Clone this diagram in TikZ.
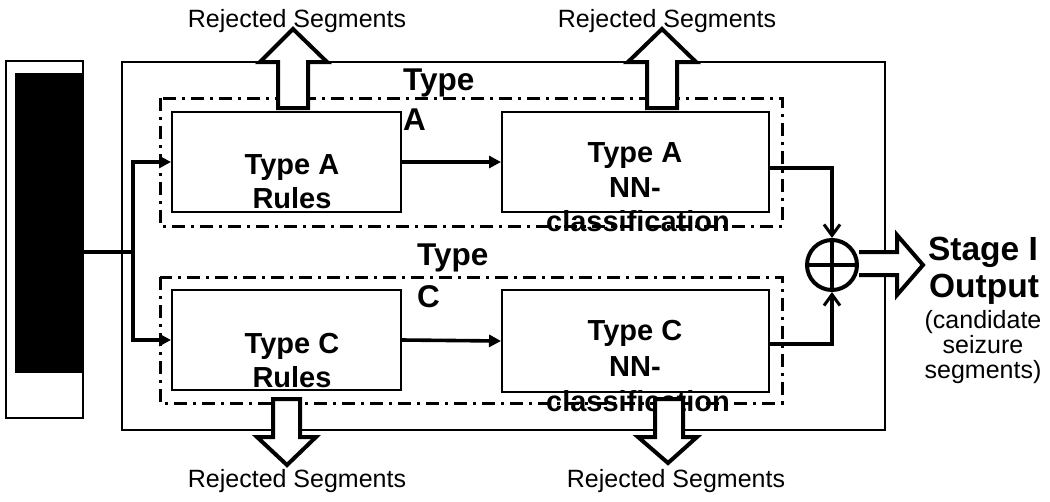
\documentclass[tikz,border=0pt]{standalone}
\usepackage{fontspec}
\setmainfont{Liberation Sans}
\usetikzlibrary{arrows.meta}
\begin{document}
\begin{tikzpicture}[x=1pt,y=-1pt,
  block/.style={draw,line width=2pt,minimum width=0pt,minimum height=0pt,inner sep=0pt},
  group/.style={draw,line width=3pt,dash pattern=on 13pt off 6pt on 3pt off 6pt},
  conn/.style={line width=3.6pt},
  tri/.style={-{Triangle[length=12pt,width=12pt]}},
  vee/.style={-{Straight Barb[length=11pt,width=16pt,line width=3pt]}},
  hollow/.style={draw,fill=white,line width=4pt,line join=miter},
  bt/.style={font=\fontsize{29}{33}\selectfont\bfseries,inner sep=0pt,anchor=base},
  rej/.style={font=\fontsize{25}{30}\selectfont,inner sep=0pt,anchor=base},
  lbl/.style={font=\fontsize{31.5}{40}\selectfont\bfseries,inner sep=0pt,anchor=base west},
  outt/.style={font=\fontsize{33.5}{38}\selectfont\bfseries,inner sep=0pt,anchor=base},
  cand/.style={font=\fontsize{25}{25}\selectfont,inner sep=0pt,anchor=base}
]
\useasboundingbox (0,0) rectangle (1050,501);
% left panel
\draw[line width=2pt] (6,61) rectangle (83,418);
\fill (15,73) rectangle (83,373);
\coordinate (src) at (83,252);
% main box
\draw[line width=2pt] (122,62) rectangle (885,430);
% groups
\draw[group] (160,98) rectangle (782,226);
\draw[group] (160,277) rectangle (782,403);
% boxes
\node[block,minimum width=229pt,minimum height=100pt] (ra) at (286.5,162) {};
\node[block,minimum width=267pt,minimum height=100pt] (na) at (635.5,162) {};
\node[block,minimum width=229pt,minimum height=100pt] (rc) at (286.5,340) {};
\node[block,minimum width=267pt,minimum height=102pt] (nc) at (635.5,341) {};
% texts
\node[bt] (tra1) at (292,174) {Type A};
\node[bt] (tra2) at (292,208) {Rules};
\node[bt] (trc1) at (292,353) {Type C};
\node[bt] (trc2) at (292,387) {Rules};
\node[bt] (tna1) at (635,162) {Type A};
\node[bt] (tna2) at (635,197) {NN-};
\node[bt] (tna3) at (638,231) {classification};
\node[bt] (tnc1) at (635,340) {Type C};
\node[bt] (tnc2) at (635,376) {NN-};
\node[bt] (tnc3) at (638,411) {classification};
\node[lbl] (la1) at (403,90) {Type};
\node[lbl] (la2) at (403,130) {A};
\node[lbl] (lc1) at (417,265) {Type};
\node[lbl] (lc2) at (417,307) {C};
% connectors
\coordinate (br) at (133,252);
\draw[conn] (src) -- (br);
\draw[conn,tri] (br) |- (ra.west);
\draw[conn,tri] (br) |- (rc.west);
\draw[conn,tri] (ra.east) -- (na.west);
\draw[conn,tri] (rc.east) -- (nc.west);
% summing junction
\node[draw,circle,line width=4pt,minimum size=50pt,inner sep=0pt] (sum) at (832,265) {};
\draw[line width=3.5pt] (sum.north) -- (sum.south) (sum.west) -- (sum.east);
\draw[conn,vee] (na.east |- 0,168) -| (sum.north);
\draw[conn,vee] (nc.east |- 0,344) -| (sum.south);
% output arrow
\draw[hollow] (sum.east |- 0,252) -- (897,252) -- (897,235) -- (923,265) -- (897,295) -- (897,275) -- (sum.east |- 0,275);
% rejected arrows (top)
\draw[hollow] (278,108) -- (278,62) -- (260,62) -- (293,29) -- (327,62) -- (308,62) -- (308,108) -- cycle;
\draw[hollow] (647,108) -- (647,62) -- (628,62) -- (662,29) -- (696,62) -- (677,62) -- (677,108) -- cycle;
% rejected arrows (bottom)
\draw[hollow] (273,399) -- (273,437) -- (257,437) -- (287,465) -- (316,437) -- (300,437) -- (300,399) -- cycle;
\draw[hollow] (655,399) -- (655,437) -- (638,437) -- (668,463) -- (697,437) -- (683,437) -- (683,399) -- cycle;
\node[rej] (r1) at (297,27) {Rejected Segments};
\node[rej] (r2) at (667,27) {Rejected Segments};
\node[rej] (r3) at (297,487) {Rejected Segments};
\node[rej] (r4) at (676,487) {Rejected Segments};
% output text
\node[outt] (out1) at (983,260) {Stage I};
\node[outt] (out2) at (984,297) {Output};
\node[cand] (c1) at (983,328) {(candidate};
\node[cand] (c2) at (983,353) {seizure};
\node[cand] (c3) at (983,378) {segments)};
\end{tikzpicture}
\end{document}
